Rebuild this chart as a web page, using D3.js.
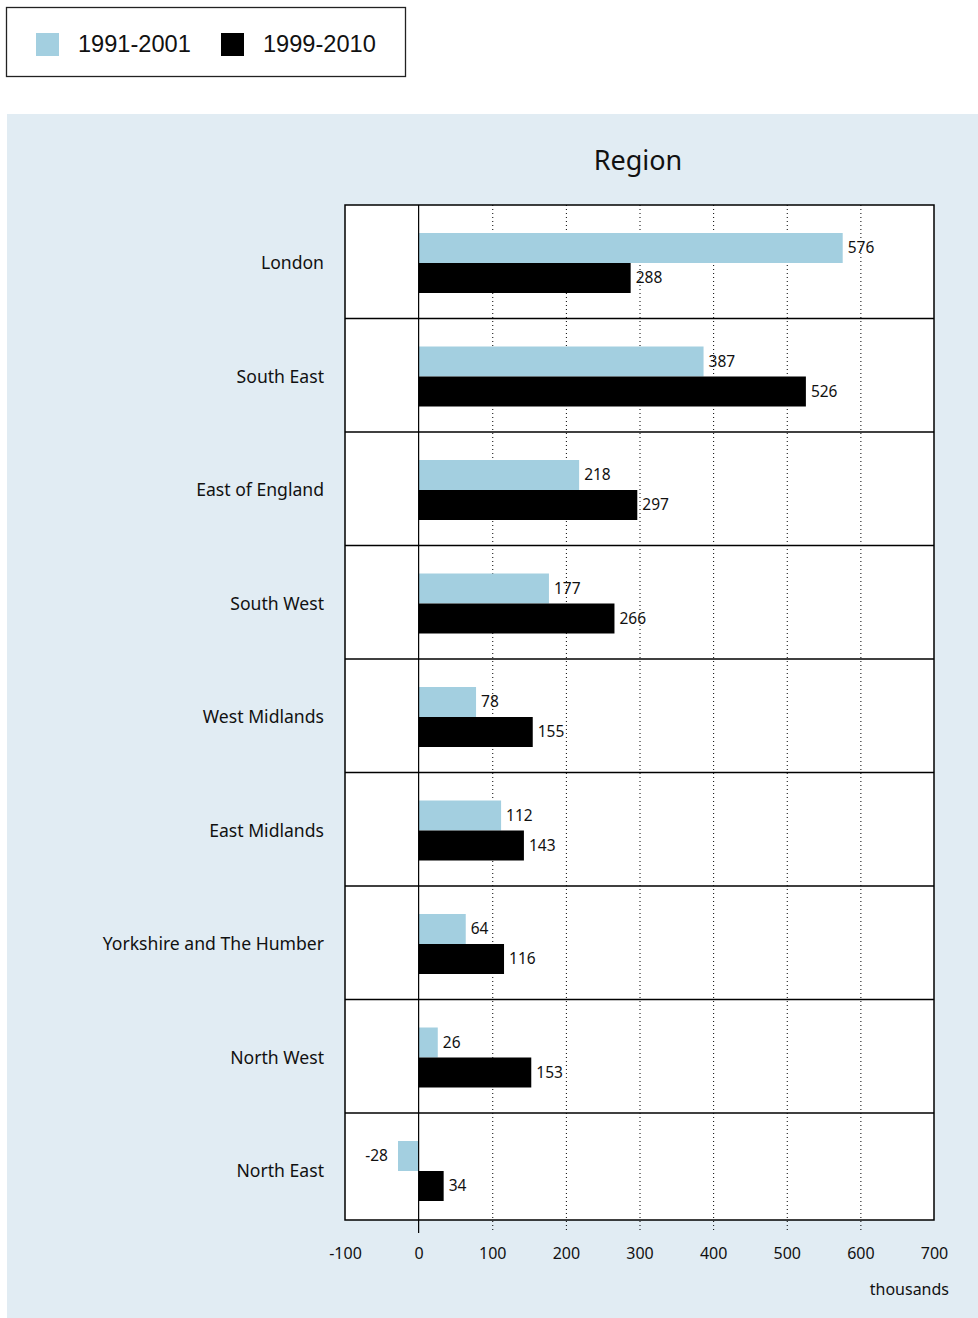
<!DOCTYPE html>
<html>
<head>
<meta charset="utf-8">
<script src="https://cdn.jsdelivr.net/npm/d3@7"></script>
<style>
	body { margin: 0; background: #fff; }
	svg { display: block; }
</style>
</head>
<body>
<div id="chart"></div>
<script>
// data
var regions = ['London', 'South East', 'East of England', 'South West', 'West Midlands',
	'East Midlands', 'Yorkshire and The Humber', 'North West', 'North East']
var growth9101 = [576, 387, 218, 177, 78, 112, 64, 26, -28]
var growth9910 = [288, 526, 297, 266, 155, 143, 116, 153, 34]
var seriesNames = ['1991-2001', '1999-2010']
var xTicks = [-100, 0, 100, 200, 300, 400, 500, 600, 700]

var W = 978, H = 1318
var colors = ['#a3cfe0', '#000000']
var font = '"Noto Sans", "Open Sans", sans-serif'

var plot = { left: 345, right: 934, top: 205, bottom: 1220 }
var bandH = 113.5

var svg = d3.select('#chart').append('svg')
	.attr('width', W)
	.attr('height', H)

// legend
var legend = svg.append('g')
legend.append('rect')
	.attr('x', 6.5).attr('y', 7.5)
	.attr('width', 399).attr('height', 69)
	.attr('fill', '#fff').attr('stroke', '#222').attr('stroke-width', 1.3)

var legX = [36, 221]
seriesNames.forEach(function(name, i) {
	legend.append('rect')
		.attr('x', legX[i]).attr('y', 33)
		.attr('width', 23).attr('height', 23)
		.attr('fill', colors[i])
	legend.append('text')
		.attr('x', legX[i] + 42).attr('y', 52)
		.attr('font-family', '"Liberation Sans", Arial, sans-serif')
		.attr('font-size', 23.6)
		.attr('fill', '#111')
		.text(name)
})

// panel
svg.append('rect')
	.attr('x', 7).attr('y', 114)
	.attr('width', W - 7).attr('height', H - 114)
	.attr('fill', '#e1ecf3')

svg.append('text')
	.attr('x', 638).attr('y', 170)
	.attr('text-anchor', 'middle')
	.attr('font-family', font)
	.attr('font-size', 27)
	.attr('fill', '#111')
	.text('Region')

var x = d3.scaleLinear()
	.domain([-100, 700])
	.range([plot.left, plot.right])

var y = d3.scaleBand()
	.domain(regions)
	.range([plot.top, plot.top + bandH * regions.length])

svg.append('rect')
	.attr('x', plot.left).attr('y', plot.top)
	.attr('width', plot.right - plot.left).attr('height', plot.bottom - plot.top)
	.attr('fill', '#fff')

// dotted grid, runs a bit below the frame like ticks
svg.append('g')
	.selectAll('line')
	.data(xTicks.filter(function(d) { return d > 0 && d < 700 }))
	.enter()
	.append('line')
	.attr('x1', function(d) { return x(d) + 0.5 })
	.attr('x2', function(d) { return x(d) + 0.5 })
	.attr('y1', plot.top)
	.attr('y2', plot.bottom + 12)
	.attr('stroke', '#000')
	.attr('stroke-width', 1)
	.attr('stroke-dasharray', '1,3')

// band separators
svg.append('g')
	.selectAll('line')
	.data(regions.slice(1))
	.enter()
	.append('line')
	.attr('x1', plot.left).attr('x2', plot.right)
	.attr('y1', function(d) { return y(d) })
	.attr('y2', function(d) { return y(d) })
	.attr('stroke', '#000')
	.attr('stroke-width', 1.3)

var barOff = 28, barH = 30
var rows = regions.map(function(r, i) {
	return { region: r, vals: [growth9101[i], growth9910[i]] }
})

var groups = svg.append('g')
	.selectAll('g')
	.data(rows)
	.enter()
	.append('g')
	.attr('transform', function(d) { return 'translate(0,' + y(d.region) + ')' })

groups.each(function(d) {
	var _this = d3.select(this)
	d.vals.forEach(function(v, i) {
		var y0 = barOff + i * barH
		_this.append('rect')
			.attr('x', x(Math.min(0, v)))
			.attr('y', y0)
			.attr('width', Math.abs(x(v) - x(0)))
			.attr('height', barH)
			.attr('fill', colors[i])
		_this.append('text')
			.attr('x', v < 0 ? x(v) - 10 : x(v) + 5)
			.attr('y', y0 + barH / 2)
			.attr('dy', '0.35em')
			.attr('text-anchor', v < 0 ? 'end' : 'start')
			.attr('font-family', font)
			.attr('font-size', 15.5)
			.attr('fill', '#111')
			.text(v)
	})
	_this.append('text')
		.attr('x', 324)
		.attr('y', barOff + barH)
		.attr('dy', '0.35em')
		.attr('text-anchor', 'end')
		.attr('font-family', font)
		.attr('font-size', 17.6)
		.attr('fill', '#111')
		.text(d.region)
})

// zero line
svg.append('line')
	.attr('x1', x(0)).attr('x2', x(0))
	.attr('y1', plot.top).attr('y2', plot.bottom + 13)
	.attr('stroke', '#000').attr('stroke-width', 1.2)

// frame
svg.append('rect')
	.attr('x', plot.left).attr('y', plot.top)
	.attr('width', plot.right - plot.left).attr('height', plot.bottom - plot.top)
	.attr('fill', 'none')
	.attr('stroke', '#000').attr('stroke-width', 1.5)

// x axis labels (plain hyphen for negatives, as in the source)
var xAxis = svg.append('g')
	.attr('transform', 'translate(0,' + (plot.bottom + 28) + ')')
	.call(d3.axisBottom(x).tickValues(xTicks).tickSize(0).tickPadding(0)
		.tickFormat(function(d) { return String(d) }))
xAxis.select('.domain').remove()
xAxis.selectAll('text')
	.attr('font-family', font)
	.attr('font-size', 16)
	.attr('fill', '#111')

svg.append('text')
	.attr('x', 949).attr('y', 1295)
	.attr('text-anchor', 'end')
	.attr('font-family', font)
	.attr('font-size', 16)
	.attr('fill', '#111')
	.text('thousands')
</script>
</body>
</html>
